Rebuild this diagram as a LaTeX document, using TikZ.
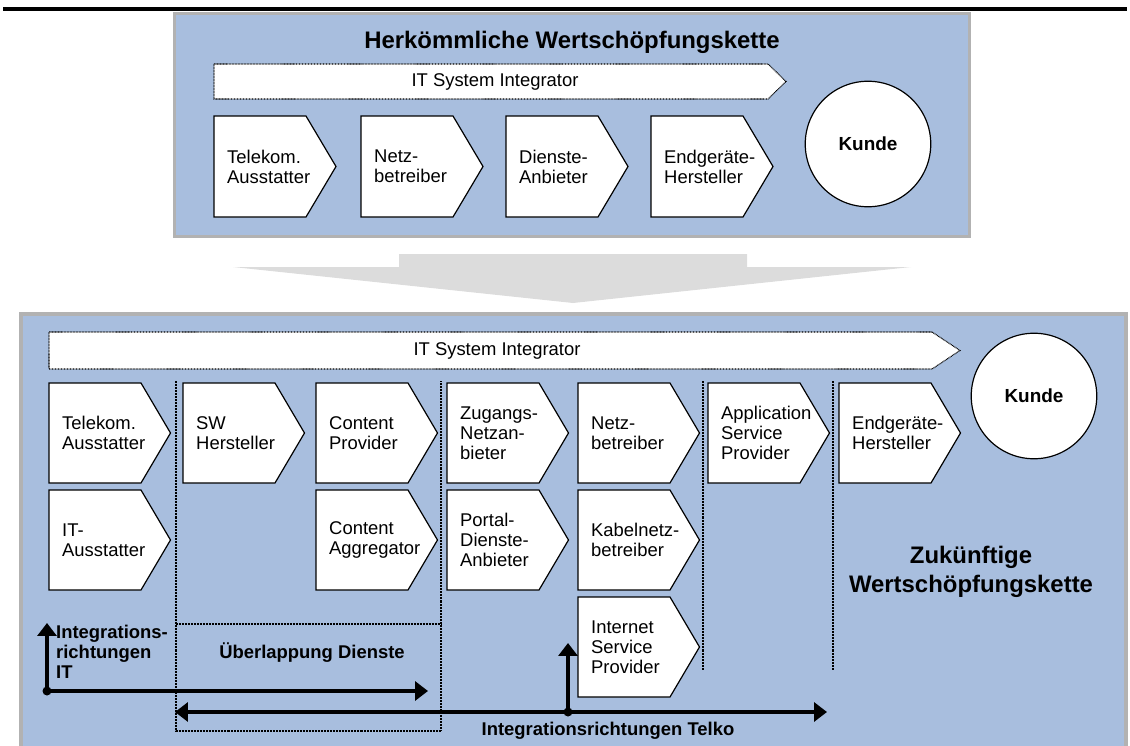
\documentclass[tikz,border=0pt]{standalone}
\usepackage{fontspec}
\setmainfont{Liberation Sans}
\usepackage{tikz}
\usetikzlibrary{arrows.meta}

\definecolor{panelblue}{RGB}{168,190,222}
\definecolor{panelgray}{RGB}{178,178,178}
\definecolor{arrowgray}{RGB}{220,220,220}

\tikzset{
  panel/.style={fill=panelblue, draw=panelgray, line width=3.5pt},
  chevbox/.style={fill=white, draw=black, line width=1.2pt},
  chevtext/.style={anchor=west, align=left, inner sep=0pt, font=\fontsize{18.5}{20}\selectfont},
  intbar/.style={fill=white, draw=black, dash pattern=on 0.8pt off 0.7pt, line width=1.1pt},
  sepline/.style={dash pattern=on 0.8pt off 0.7pt, line width=1.1pt},
  kunde/.style={draw, circle, fill=white, line width=1.2pt, minimum size=126pt, inner sep=0pt, font=\bfseries\fontsize{19}{22}\selectfont},
  dirarrow/.style={line width=4.5pt, -{Triangle[length=13pt,width=19pt]}},
  dirboth/.style={line width=4.5pt, {Triangle[length=13pt,width=19pt]}-{Triangle[length=13pt,width=19pt]}},
  boldlabel/.style={font=\bfseries\fontsize{18.5}{20}\selectfont, align=left, inner sep=0pt},
  titlelabel/.style={font=\bfseries\fontsize{24}{29}\selectfont, align=center, inner sep=0pt},
}

\begin{document}
\begin{tikzpicture}[x=1bp,y=-1bp]
\useasboundingbox (0,0) rectangle (1130,746);
\clip (0,0) rectangle (1130,746);

\draw[line width=3.5pt] (3,9) -- (1127,9);

% herkoemmliche Kette
\draw[panel] (174.5,13.5) rectangle (969.5,236.5);
\node[titlelabel] (oldTitle) at (572,42) {Herkömmliche Wertschöpfungskette};
\draw[intbar] (214,64) -- (768,64) -- (786,81.5) -- (768,99) -- (214,99) -- cycle;
\node[font=\fontsize{18.5}{20}\selectfont] (sysTop) at (495,81.5) {IT System Integrator};
\foreach \x/\y/\t [count=\i] in {214/116/{Telekom.\\Ausstatter}, 361/116/{Netz-\\betreiber},
    506/116/{Dienste-\\Anbieter}, 651/116/{Endgeräte-\\Hersteller}}{
  \draw[chevbox] (\x,\y) -- ++(92,0) -- ++(30,50.5) -- ++(-30,50.5) -- ++(-92,0) -- cycle;
  \node[chevtext] (alt\i) at (\x+13,\y+50.5) {\t};
}
\node[kunde] (kundeTop) at (868,144) {Kunde};

% grosser Pfeil
\fill[arrowgray] (399,254) -- (747,254) -- (747,267) -- (911,267) -- (573,303) -- (233,267) -- (399,267) -- cycle;

% zukuenftige Kette
\draw[panel] (21,314) rectangle (1126,760);
\draw[intbar] (49,332) -- (932,332) -- (960,350.5) -- (932,369) -- (49,369) -- cycle;
\node[font=\fontsize{18.5}{20}\selectfont] (sysBot) at (497,350.5) {IT System Integrator};

\draw[sepline] (176,381) -- (176,731) -- (441,731) -- (441,381);
\draw[sepline] (176,624) -- (441,624);
\draw[sepline] (703,381) -- (703,670);
\draw[sepline] (833,381) -- (833,670);

\foreach \x/\y/\t [count=\i] in {49/383/{Telekom.\\Ausstatter}, 49/490/{IT-\\Ausstatter},
    183/383/{SW\\Hersteller}, 316/383/{Content\\Provider}, 316/490/{Content\\Aggregator},
    447/383/{Zugangs-\\Netzan-\\bieter}, 447/490/{Portal-\\Dienste-\\Anbieter},
    578/383/{Netz-\\betreiber}, 578/490/{Kabelnetz-\\betreiber}, 578/597/{Internet\\Service\\Provider},
    708/383/{Application\\Service\\Provider}, 839/383/{Endgeräte-\\Hersteller}}{
  \draw[chevbox] (\x,\y) -- ++(92,0) -- ++(29.5,50) -- ++(-29.5,50) -- ++(-92,0) -- cycle;
  \node[chevtext] (neu\i) at (\x+13,\y+50) {\t};
}
\node[kunde] (kundeBot) at (1034,396) {Kunde};

\node[boldlabel] (overlap) at (312,653) {Überlappung Dienste};
\node[titlelabel] (newTitle) at (971,572) {Zukünftige\\Wertschöpfungskette};

% Integrationsrichtungen
\coordinate (itO) at (47,691);
\coordinate (itUp) at (47,623);
\coordinate (itRight) at (428,691);
\draw[dirarrow] (itO) -- (itUp);
\draw[dirarrow] (itO) -- (itRight);
\fill (itO) circle (4.5);
\node[boldlabel, anchor=west] (itLabel) at (56,652) {Integrations-\\richtungen\\IT};

\coordinate (tkO) at (568,712);
\coordinate (tkL) at (175,712);
\coordinate (tkR) at (827,712);
\coordinate (tkUp) at (568,643);
\draw[dirboth] (tkL) -- (tkR);
\draw[dirarrow] (tkO) -- (tkUp);
\fill (tkO) circle (4.5);
\node[boldlabel] (tkLabel) at (608,731) {Integrationsrichtungen Telko};
\end{tikzpicture}
\end{document}
